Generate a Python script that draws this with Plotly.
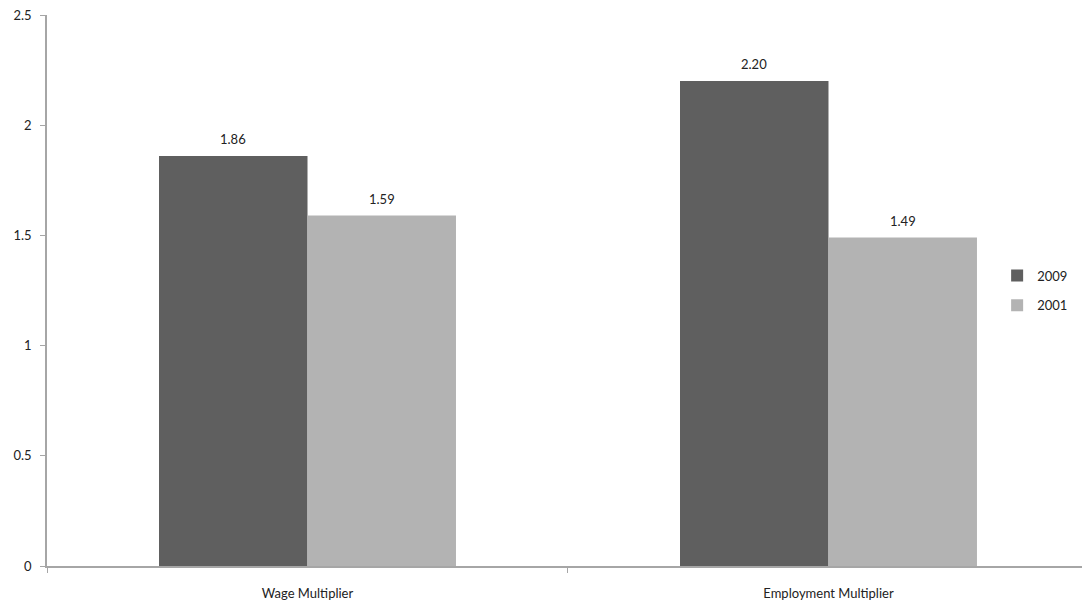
import plotly.graph_objects as go

categories = ["Wage Multiplier", "Employment Multiplier"]
series_names = ["2009", "2001"]
values_2009 = [1.86, 2.20]
values_2001 = [1.59, 1.49]
y_ticks = [0, 0.5, 1, 1.5, 2, 2.5]
y_tick_labels = ["0", "0.5", "1", "1.5", "2", "2.5"]

FONT = "Lato, 'Open Sans', sans-serif"
colors = ["#5f5f5f", "#b3b3b3"]
series_values = [values_2009, values_2001]

fig = go.Figure()
for i, (name, vals, col) in enumerate(zip(series_names, series_values, colors)):
    fig.add_trace(go.Bar(
        x=categories, y=vals, name=name, legendgroup=name,
        marker=dict(color=col, line=dict(width=0)),
        offsetgroup=str(i),
    ))

# value labels above each bar, offset to the bar's half of the group
bar_shift = 0.285 / 2
for i, vals in enumerate(series_values):
    side = -1 if i == 0 else 1
    for j, v in enumerate(vals):
        fig.add_annotation(
            x=j + side * bar_shift, y=v, xref="x", yref="y",
            text=f"{v:.2f}", showarrow=False, yanchor="bottom", yshift=7,
            font=dict(family=FONT, size=13, color="#222"),
        )

fig.update_layout(
    width=1082, height=605,
    margin=dict(l=47, r=0, t=15, b=39),
    paper_bgcolor="white", plot_bgcolor="white",
    barmode="group", bargap=0.43, bargroupgap=0,
    font=dict(family=FONT, size=13, color="#222"),
    showlegend=True,
    legend=dict(x=0.918, xanchor="left", y=0.5, yanchor="middle",
                font=dict(family=FONT, size=13, color="#222"),
                itemwidth=30,
                tracegroupgap=10, bgcolor="rgba(0,0,0,0)"),
    xaxis=dict(type="category", range=[-0.5, 1.4866],
               showline=True, linecolor="#a6a6a6", linewidth=1.5,
               ticks="outside", tickson="boundaries", ticklen=5,
               tickcolor="#a6a6a6", showgrid=False, zeroline=False,
               ticklabelstandoff=15, fixedrange=True),
    yaxis=dict(range=[0, 2.5], tickvals=y_ticks, ticktext=y_tick_labels,
               showline=True, linecolor="#a6a6a6", linewidth=1.5,
               ticks="outside", ticklen=5, tickcolor="#a6a6a6",
               showgrid=False, zeroline=False, ticklabelstandoff=6,
               fixedrange=True),
)

fig.write_html("out.html")
